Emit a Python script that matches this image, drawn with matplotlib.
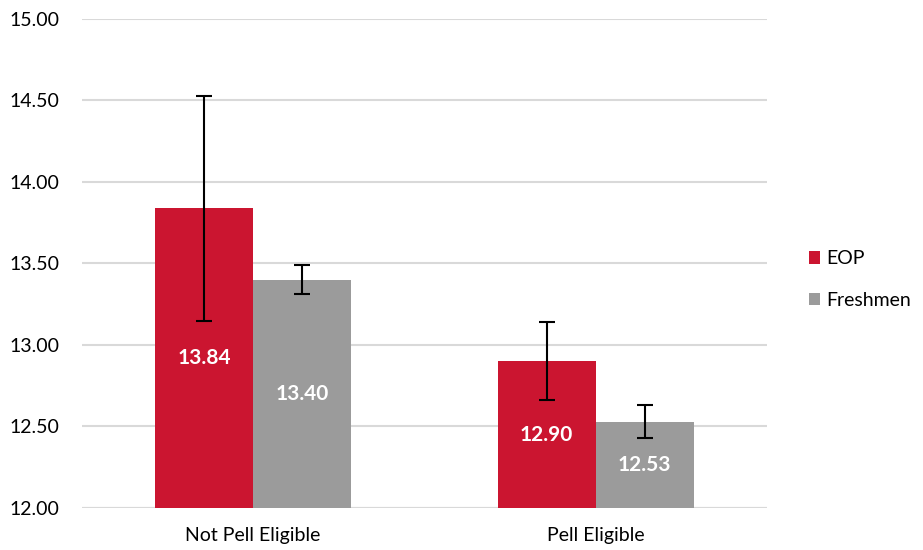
import matplotlib.pyplot as plt
import numpy as np

plt.rcParams['font.family'] = ['Lato', 'DejaVu Sans']

categories = ['Not Pell Eligible', 'Pell Eligible']
series = ['EOP', 'Freshmen']
eop = [13.84, 12.90]
fresh = [13.40, 12.53]
eop_err = [0.69, 0.24]
fresh_err = [0.09, 0.10]

couleurs = ['#CB1530', '#9B9B9B']

fig = plt.figure(figsize=(9.23, 5.5), dpi=100)
ax = fig.add_axes([0.0888, 0.0764, 0.742, 0.8891])

x = np.arange(len(categories))
w = 0.2865
base = 12.0

for i, (vals, errs) in enumerate([(eop, eop_err), (fresh, fresh_err)]):
    pos = x + (i - 0.5) * w
    heights = [v - base for v in vals]
    ax.bar(pos, heights, w, bottom=base, color=couleurs[i], label=series[i], zorder=2)
    ax.errorbar(pos, vals, yerr=errs, fmt='none', ecolor='black', elinewidth=1.5,
                capsize=6, capthick=1.5, zorder=3)
    for p, v in zip(pos, vals):
        ax.text(p, (base + v) / 2, f'{v:.2f}', ha='center', va='center',
                color='white', fontsize=15, fontweight='bold', zorder=4)

ax.set_ylim(12, 15)
ax.set_xlim(-0.5, 1.5)
ax.set_yticks(np.arange(12, 15.01, 0.5))
ax.set_yticklabels([f'{v:.2f}' for v in np.arange(12, 15.01, 0.5)], fontsize=14)
ax.set_xticks(x)
ax.set_xticklabels(categories, fontsize=14)
ax.yaxis.grid(True, color='#D9D9D9', linewidth=1.5, zorder=0)
ax.set_axisbelow(True)
for s in ax.spines.values():
    s.set_visible(False)
ax.tick_params(axis='x', length=0, pad=14)
ax.tick_params(axis='y', length=0, pad=16)
ax.axhline(12, color='#D9D9D9', linewidth=1.5, zorder=1)

leg = ax.legend(loc='center left', bbox_to_anchor=(1.0, 0.467), frameon=False,
                fontsize=14, handlelength=0.6, handleheight=0.6, labelspacing=1.25,
                handletextpad=0.3, borderaxespad=1.75)

fig.savefig('out.png', dpi=100)
